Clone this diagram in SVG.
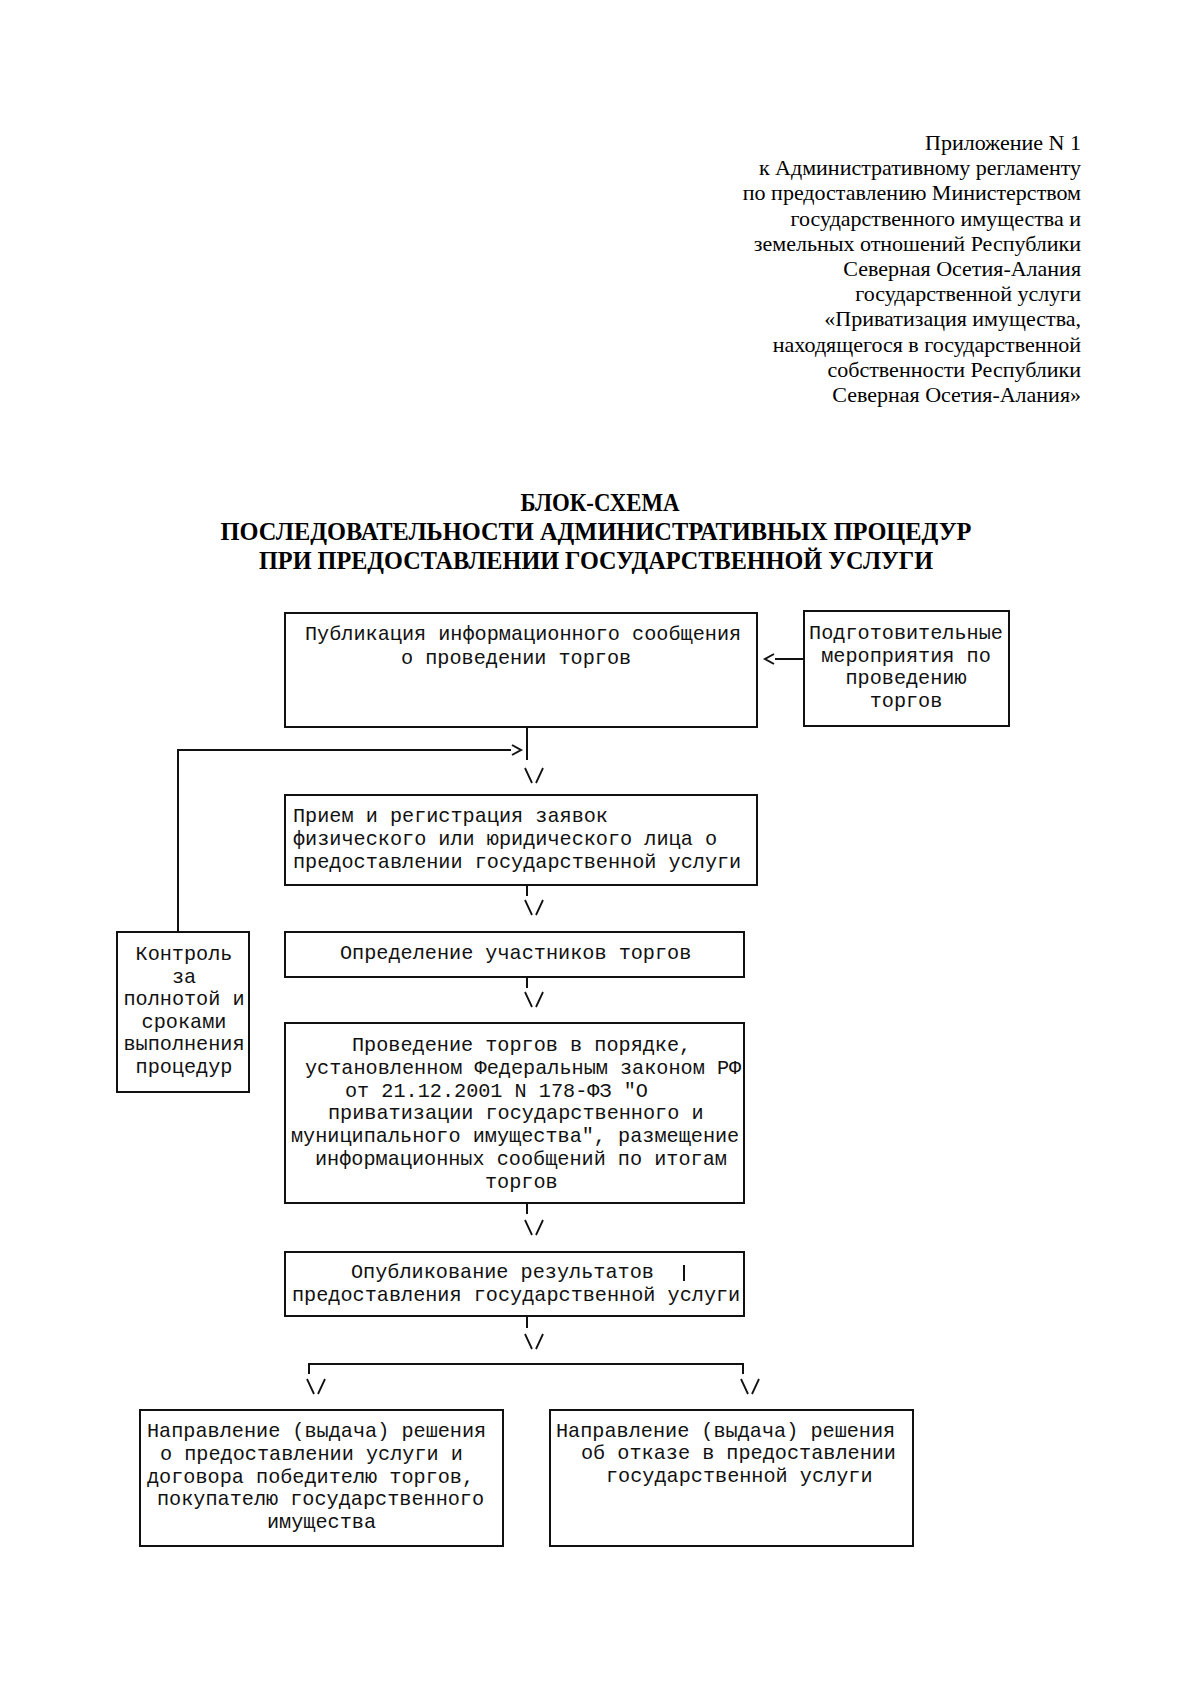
<svg xmlns="http://www.w3.org/2000/svg" xmlns:xlink="http://www.w3.org/1999/xlink" width="1200" height="1688" viewBox="0 0 1200 1688">
<style>
.bg{fill:#fff}
.box{fill:none;stroke:#111;stroke-width:2}
.ln{fill:none;stroke:#111;stroke-width:2}
.hd{font-family:"Liberation Serif","Times New Roman",serif;font-size:22px;fill:#000;text-anchor:end}
.tt{font-family:"Liberation Serif","Times New Roman",serif;font-size:25px;font-weight:bold;fill:#000;text-anchor:middle}
.m{font-family:"Liberation Mono","Courier New",monospace;font-size:20.2px;fill:#111}
.c{text-anchor:middle}
</style>
<defs>
<g id="va"><path d="M0,0 L7,15 M11,15 L18,0" fill="none" stroke="#111" stroke-width="1.8"/></g>
</defs>
<rect class="bg" x="0" y="0" width="1200" height="1688"/>

<g id="header">
<text class="hd" x="1081" y="150">Приложение N 1</text>
<text class="hd" x="1081" y="175">к Административному регламенту</text>
<text class="hd" x="1081" y="200">по предоставлению Министерством</text>
<text class="hd" x="1081" y="226">государственного имущества и</text>
<text class="hd" x="1081" y="251">земельных отношений Республики</text>
<text class="hd" x="1081" y="276">Северная Осетия-Алания</text>
<text class="hd" x="1081" y="301">государственной услуги</text>
<text class="hd" x="1081" y="326">«Приватизация имущества,</text>
<text class="hd" x="1081" y="352">находящегося в государственной</text>
<text class="hd" x="1081" y="377">собственности Республики</text>
<text class="hd" x="1081" y="402">Северная Осетия-Алания»</text>
</g>

<g id="title">
<text class="tt" x="600" y="511" textLength="159" lengthAdjust="spacingAndGlyphs">БЛОК-СХЕМА</text>
<text class="tt" x="596" y="540" textLength="751" lengthAdjust="spacingAndGlyphs">ПОСЛЕДОВАТЕЛЬНОСТИ АДМИНИСТРАТИВНЫХ ПРОЦЕДУР</text>
<text class="tt" x="596" y="569" textLength="674" lengthAdjust="spacingAndGlyphs">ПРИ ПРЕДОСТАВЛЕНИИ ГОСУДАРСТВЕННОЙ УСЛУГИ</text>
</g>

<g id="node-publication">
<rect class="box" x="285" y="613" width="472" height="114"/>
<text class="m" x="305" y="640">Публикация информационного сообщения</text>
<text class="m" x="401" y="664">о проведении торгов</text>
</g>

<g id="node-preparation">
<rect class="box" x="804" y="611" width="205" height="115"/>
<text class="m c" x="906" y="639">Подготовительные</text>
<text class="m c" x="906" y="662">мероприятия по</text>
<text class="m c" x="906" y="684">проведению</text>
<text class="m c" x="906" y="707">торгов</text>
</g>

<g id="node-reception">
<rect class="box" x="285" y="795" width="472" height="90"/>
<text class="m" x="293" y="822">Прием и регистрация заявок</text>
<text class="m" x="293" y="845">физического или юридического лица о</text>
<text class="m" x="293" y="868">предоставлении государственной услуги</text>
</g>

<g id="node-participants">
<rect class="box" x="285" y="932" width="459" height="45"/>
<text class="m" x="340" y="959">Определение участников торгов</text>
</g>

<g id="node-control">
<rect class="box" x="117" y="932" width="132" height="160"/>
<text class="m c" x="184" y="960">Контроль</text>
<text class="m c" x="184" y="983">за</text>
<text class="m c" x="184" y="1005">полнотой и</text>
<text class="m c" x="184" y="1028">сроками</text>
<text class="m c" x="184" y="1050">выполнения</text>
<text class="m c" x="184" y="1073">процедур</text>
</g>

<g id="node-auction">
<rect class="box" x="285" y="1023" width="459" height="180"/>
<text class="m" x="352" y="1051">Проведение торгов в порядке,</text>
<text class="m" x="305" y="1074">установленном Федеральным законом РФ</text>
<text class="m" x="345" y="1097">от 21.12.2001 N 178-ФЗ "О</text>
<text class="m" x="328" y="1119">приватизации государственного и</text>
<text class="m" x="291" y="1142">муниципального имущества", размещение</text>
<text class="m" x="315" y="1165">информационных сообщений по итогам</text>
<text class="m" x="485" y="1188">торгов</text>
</g>

<g id="node-results">
<rect class="box" x="285" y="1252" width="459" height="64"/>
<text class="m" x="351" y="1278">Опубликование результатов</text>
<text class="m" x="292" y="1301">предоставления государственной услуги</text>
<line class="ln" x1="684" y1="1265" x2="684" y2="1281"/>
</g>

<g id="node-grant">
<rect class="box" x="140" y="1410" width="363" height="136"/>
<text class="m" x="147" y="1437">Направление (выдача) решения</text>
<text class="m" x="160" y="1460">о предоставлении услуги и</text>
<text class="m" x="147" y="1483">договора победителю торгов,</text>
<text class="m" x="157" y="1505">покупателю государственного</text>
<text class="m" x="267" y="1528">имущества</text>
</g>

<g id="node-refusal">
<rect class="box" x="550" y="1410" width="363" height="136"/>
<text class="m" x="556" y="1437">Направление (выдача) решения</text>
<text class="m" x="581" y="1459">об отказе в предоставлении</text>
<text class="m" x="606" y="1482">государственной услуги</text>
</g>

<g id="connectors">
<line class="ln" x1="804" y1="659" x2="775" y2="659"/>
<path class="ln" d="M774,654 L765,659 L774,664" stroke-width="1.6"/>
<line class="ln" x1="527" y1="727" x2="527" y2="760"/>
<path class="ln" d="M178,932 L178,750 L511,750"/>
<path class="ln" d="M512,745 L521,750 L512,755" stroke-width="1.6"/>
<use xlink:href="#va" x="525" y="768"/>
<line class="ln" x1="527" y1="885" x2="527" y2="896"/>
<use xlink:href="#va" x="525" y="900"/>
<line class="ln" x1="527" y1="977" x2="527" y2="988"/>
<use xlink:href="#va" x="525" y="992"/>
<line class="ln" x1="527" y1="1203" x2="527" y2="1214"/>
<use xlink:href="#va" x="525" y="1220"/>
<line class="ln" x1="527" y1="1316" x2="527" y2="1328"/>
<use xlink:href="#va" x="525" y="1334"/>
<path class="ln" d="M309,1374 L309,1364 L743,1364 L743,1374"/>
<use xlink:href="#va" x="307" y="1379"/>
<use xlink:href="#va" x="741" y="1379"/>
</g>
</svg>
